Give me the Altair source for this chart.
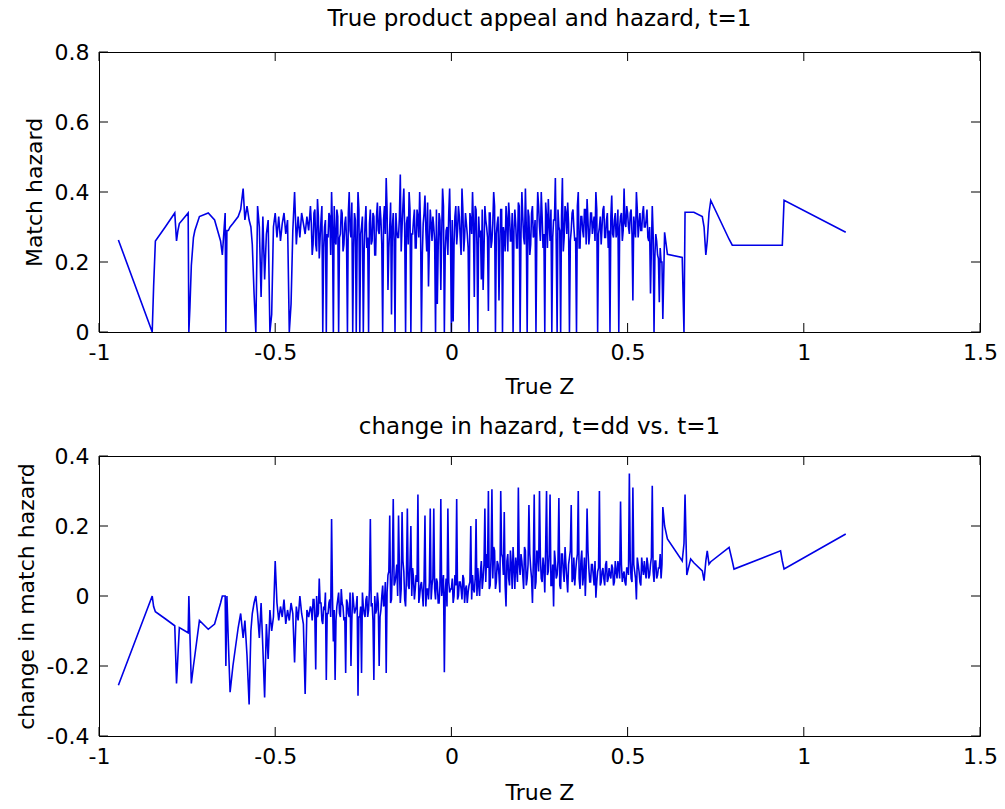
import altair as alt
import pandas as pd

# ---------------- data ----------------
z_left = [-0.945, -0.849, -0.845, -0.840, -0.812, -0.785, -0.780, -0.776, -0.772, -0.747,
          -0.745, -0.742, -0.738, -0.732, -0.728, -0.715, -0.690, -0.672, -0.655, -0.650,
          -0.642, -0.640, -0.637, -0.633, -0.628, -0.620, -0.605, -0.598, -0.591, -0.586,
          -0.580, -0.574, -0.569, -0.565, -0.560, -0.555]
hazard_left = [0.263, 0.0, 0.13, 0.26, 0.30, 0.34, 0.26, 0.29, 0.31, 0.34,
               0.0, 0.07, 0.19, 0.27, 0.29, 0.33, 0.34, 0.32, 0.26, 0.22,
               0.34, 0.0, 0.29, 0.29, 0.30, 0.31, 0.33, 0.35, 0.41, 0.32,
               0.36, 0.32, 0.30, 0.25, 0.11, 0.0]
change_left = [-0.255, 0.0, -0.03, -0.045, -0.065, -0.085, -0.25, -0.17, -0.09, -0.105,
               0.0, -0.11, -0.25, -0.2, -0.17, -0.07, -0.095, -0.08, -0.02, 0.0,
               0.0, -0.2, 0.0, -0.13, -0.275, -0.2, -0.09, -0.05, -0.12, -0.07,
               -0.17, -0.31, -0.1, -0.05, -0.02, 0.0]

z_mid = [
    -0.550, -0.545, -0.540, -0.535, -0.530, -0.525, -0.520, -0.515, -0.510, -0.505,
    -0.500, -0.495, -0.490, -0.485, -0.480, -0.475, -0.470, -0.465, -0.460, -0.455,
    -0.450, -0.445, -0.440, -0.435, -0.430, -0.425, -0.420, -0.415, -0.410, -0.405,
    -0.400, -0.395, -0.390, -0.385, -0.380, -0.375, -0.370, -0.365, -0.360, -0.355,
    -0.350, -0.345, -0.340, -0.335, -0.330, -0.325, -0.320, -0.315, -0.310, -0.305,
    -0.300, -0.295, -0.290, -0.285, -0.280, -0.275, -0.270, -0.265, -0.260, -0.255,
    -0.250, -0.245, -0.240, -0.235, -0.230, -0.225, -0.220, -0.215, -0.210, -0.205,
    -0.200, -0.195, -0.190, -0.185, -0.180, -0.175, -0.170, -0.165, -0.160, -0.155,
    -0.150, -0.145, -0.140, -0.135, -0.130, -0.125, -0.120, -0.115, -0.110, -0.105,
    -0.100, -0.095, -0.090, -0.085, -0.080, -0.075, -0.070, -0.065, -0.060, -0.055,
    -0.050, -0.045, -0.040, -0.035, -0.030, -0.025, -0.020, -0.015, -0.010, -0.005,
    0.000, 0.005, 0.010, 0.015, 0.020, 0.025, 0.030, 0.035, 0.040, 0.045,
    0.050, 0.055, 0.060, 0.065, 0.070, 0.075, 0.080, 0.085, 0.090, 0.095,
    0.100, 0.105, 0.110, 0.115, 0.120, 0.125, 0.130, 0.135, 0.140, 0.145,
    0.150, 0.155, 0.160, 0.165, 0.170, 0.175, 0.180, 0.185, 0.190, 0.195,
    0.200, 0.205, 0.210, 0.215, 0.220, 0.225, 0.230, 0.235, 0.240, 0.245,
    0.250, 0.255, 0.260, 0.265, 0.270, 0.275, 0.280, 0.285, 0.290, 0.295,
    0.300, 0.305, 0.310, 0.315, 0.320, 0.325, 0.330, 0.335, 0.340, 0.345,
    0.350, 0.355, 0.360, 0.365, 0.370, 0.375, 0.380, 0.385, 0.390, 0.395,
    0.400, 0.405, 0.410, 0.415, 0.420, 0.425, 0.430, 0.435, 0.440, 0.445,
    0.450, 0.455, 0.460, 0.465, 0.470, 0.475, 0.480, 0.485, 0.490, 0.495,
    0.500, 0.505, 0.510, 0.515, 0.520, 0.525, 0.530, 0.535, 0.540, 0.545,
    0.550, 0.555, 0.560, 0.565, 0.570, 0.575, 0.580, 0.585, 0.590, 0.595, 0.600,
]
hazard_mid = [
    0.36, 0.30, 0.10, 0.33, 0.15, 0.28, 0.32, 0.00, 0.05, 0.30,
    0.34, 0.27, 0.33, 0.26, 0.31, 0.34, 0.28, 0.32, 0.00, 0.08,
    0.29, 0.40, 0.25, 0.33, 0.27, 0.34, 0.31, 0.28, 0.33, 0.29,
    0.36, 0.22, 0.34, 0.25, 0.38, 0.21, 0.32, 0.00, 0.30, 0.00,
    0.27, 0.33, 0.40, 0.00, 0.26, 0.35, 0.00, 0.28, 0.34, 0.25,
    0.33, 0.00, 0.40, 0.27, 0.00, 0.34, 0.00, 0.40, 0.00, 0.30,
    0.00, 0.31, 0.24, 0.00, 0.35, 0.26, 0.33, 0.22, 0.37, 0.28,
    0.32, 0.00, 0.36, 0.44, 0.12, 0.30, 0.05, 0.34, 0.00, 0.29,
    0.27, 0.45, 0.30, 0.41, 0.00, 0.33, 0.40, 0.00, 0.28, 0.35,
    0.24, 0.33, 0.40, 0.00, 0.31, 0.39, 0.23, 0.13, 0.35, 0.26,
    0.30, 0.00, 0.08, 0.34, 0.12, 0.41, 0.00, 0.29, 0.22, 0.41,
    0.00, 0.03, 0.33, 0.25, 0.36, 0.27, 0.41, 0.23, 0.34, 0.28,
    0.00, 0.32, 0.40, 0.10, 0.35, 0.00, 0.27, 0.15, 0.12, 0.36,
    0.30, 0.06, 0.34, 0.26, 0.40, 0.00, 0.31, 0.09, 0.35, 0.00,
    0.28, 0.36, 0.23, 0.33, 0.26, 0.00, 0.35, 0.24, 0.37, 0.00,
    0.40, 0.27, 0.41, 0.00, 0.33, 0.25, 0.36, 0.28, 0.00, 0.40,
    0.30, 0.40, 0.24, 0.00, 0.33, 0.38, 0.26, 0.00, 0.32, 0.44,
    0.00, 0.30, 0.00, 0.44, 0.27, 0.34, 0.37, 0.00, 0.29, 0.35,
    0.26, 0.00, 0.40, 0.24, 0.33, 0.27, 0.35, 0.38, 0.25, 0.34,
    0.28, 0.33, 0.40, 0.00, 0.30, 0.25, 0.35, 0.27, 0.32, 0.24,
    0.00, 0.39, 0.27, 0.34, 0.29, 0.00, 0.33, 0.26, 0.41, 0.30,
    0.34, 0.28, 0.35, 0.09, 0.30, 0.40, 0.27, 0.34, 0.29, 0.36,
    0.30, 0.35, 0.26, 0.11, 0.36, 0.00, 0.28, 0.22, 0.085, 0.20, 0.037,
]
change_mid = [
    -0.05, -0.12, -0.02, -0.15, -0.29, -0.08, -0.18, -0.04, -0.10, -0.06,
    0.10, -0.02, -0.07, -0.03, -0.06, -0.01, -0.08, -0.04, -0.07, -0.02,
    -0.05, -0.19, -0.03, -0.07, 0.00, -0.05, -0.08, -0.28, -0.04, -0.06,
    -0.03, -0.07, -0.01, -0.21, -0.06, 0.05, -0.02, -0.08, -0.04, -0.24,
    -0.05, -0.01, 0.22, -0.13, -0.24, -0.03, 0.01, -0.06, -0.02, -0.07,
    -0.22, -0.02, -0.06, -0.20, 0.01, -0.05, -0.03, -0.285, -0.06, -0.22,
    -0.03, -0.06, 0.00, -0.04, 0.22, -0.02, -0.24, -0.05, 0.01, -0.20,
    -0.04, 0.03, -0.02, -0.22, 0.06, 0.23, -0.01, 0.277, 0.04, 0.09,
    0.23, -0.02, 0.24, 0.07, -0.03, 0.25, 0.02, 0.20, 0.08, -0.01,
    0.06, 0.29, 0.00, 0.04, -0.03, 0.23, 0.02, -0.01, 0.25, 0.03,
    0.25, -0.01, 0.04, -0.02, 0.277, 0.03, -0.218, 0.05, 0.25, 0.01,
    0.02, -0.02, 0.06, 0.277, 0.00, 0.04, -0.01, 0.05, 0.02, -0.02,
    0.03, 0.20, 0.06, 0.01, 0.22, 0.08, 0.00, 0.10, 0.05, 0.25,
    0.12, 0.30, 0.03, 0.305, 0.14, 0.02, 0.10, 0.06, 0.30, 0.11,
    0.24, -0.03, 0.12, 0.03, 0.09, 0.14, 0.02, 0.08, 0.31, 0.06,
    0.10, 0.02, 0.13, 0.05, 0.26, 0.08, -0.02, 0.29, 0.04, 0.12,
    0.30, 0.05, 0.11, 0.01, 0.30, 0.07, 0.29, 0.03, -0.03, 0.10,
    0.06, 0.28, 0.02, 0.12, 0.04, 0.09, 0.01, 0.11, 0.26, 0.05,
    0.03, 0.10, 0.30, 0.02, 0.13, 0.06, 0.00, 0.25, 0.08, 0.04,
    0.09, 0.03, -0.005, 0.07, 0.30, 0.04, 0.08, 0.03, 0.10, 0.05,
    0.06, 0.09, 0.03, 0.10, 0.05, 0.08, 0.27, 0.04, 0.07, 0.03,
    0.08, 0.35, 0.05, 0.31, 0.07, -0.01, 0.09, 0.04, 0.11, 0.06,
    0.07, 0.11, 0.05, 0.09, 0.315, 0.04, 0.10, 0.06, 0.08, 0.05, 0.254,
]

# extra in-band samples of the dense core (between the points above)
z_fill = [
    -0.3975, -0.3925, -0.3875, -0.3825, -0.3775, -0.3725, -0.3675, -0.3625, -0.3575, -0.3525,
    -0.3475, -0.3425, -0.3375, -0.3325, -0.3275, -0.3225, -0.3175, -0.3125, -0.3075, -0.3025,
    -0.2975, -0.2925, -0.2875, -0.2825, -0.2775, -0.2725, -0.2675, -0.2625, -0.2575, -0.2525,
    -0.2475, -0.2425, -0.2375, -0.2325, -0.2275, -0.2225, -0.2175, -0.2125, -0.2075, -0.2025,
    -0.1975, -0.1925, -0.1875, -0.1825, -0.1775, -0.1725, -0.1675, -0.1625, -0.1575, -0.1525,
    -0.1475, -0.1425, -0.1375, -0.1325, -0.1275, -0.1225, -0.1175, -0.1125, -0.1075, -0.1025,
    -0.0975, -0.0925, -0.0875, -0.0825, -0.0775, -0.0725, -0.0675, -0.0625, -0.0575, -0.0525,
    -0.0475, -0.0425, -0.0375, -0.0325, -0.0275, -0.0225, -0.0175, -0.0125, -0.0075, -0.0025,
    0.0025, 0.0075, 0.0125, 0.0175, 0.0225, 0.0275, 0.0325, 0.0375, 0.0425, 0.0475,
    0.0525, 0.0575, 0.0625, 0.0675, 0.0725, 0.0775, 0.0825, 0.0875, 0.0925, 0.0975,
    0.1025, 0.1075, 0.1125, 0.1175, 0.1225, 0.1275, 0.1325, 0.1375, 0.1425, 0.1475,
    0.1525, 0.1575, 0.1625, 0.1675, 0.1725, 0.1775, 0.1825, 0.1875, 0.1925, 0.1975,
    0.2025, 0.2075, 0.2125, 0.2175, 0.2225, 0.2275, 0.2325, 0.2375, 0.2425, 0.2475,
    0.2525, 0.2575, 0.2625, 0.2675, 0.2725, 0.2775, 0.2825, 0.2875, 0.2925, 0.2975,
    0.3025, 0.3075, 0.3125, 0.3175, 0.3225, 0.3275, 0.3325, 0.3375, 0.3425, 0.3475,
    0.3525, 0.3575, 0.3625, 0.3675, 0.3725, 0.3775, 0.3825, 0.3875, 0.3925, 0.3975,
    0.4025, 0.4075, 0.4125, 0.4175, 0.4225, 0.4275, 0.4325, 0.4375, 0.4425, 0.4475,
    0.4525, 0.4575, 0.4625, 0.4675, 0.4725, 0.4775, 0.4825, 0.4875, 0.4925, 0.4975,
    0.5025, 0.5075, 0.5125, 0.5175, 0.5225, 0.5275, 0.5325, 0.5375, 0.5425, 0.5475,
    0.5525, 0.5575, 0.5625, 0.5675, 0.5725, 0.5775, 0.5825, 0.5875, 0.5925, 0.5975,
]
hazard_fill = [
    0.31, 0.25, 0.35, 0.23, 0.33, 0.27, 0.36, 0.24, 0.32, 0.28,
    0.34, 0.22, 0.30, 0.36, 0.25, 0.33, 0.27, 0.35, 0.23, 0.31,
    0.26, 0.34, 0.29, 0.37, 0.24, 0.32, 0.26, 0.35, 0.28, 0.33,
    0.23, 0.36, 0.27, 0.31, 0.25, 0.34, 0.22, 0.33, 0.29, 0.36,
    0.25, 0.32, 0.28, 0.35, 0.24, 0.37, 0.30, 0.26, 0.34, 0.27,
    0.33, 0.23, 0.36, 0.29, 0.31, 0.25, 0.35, 0.28, 0.32, 0.24,
    0.35, 0.27, 0.30, 0.22, 0.34, 0.29, 0.37, 0.25, 0.31, 0.33,
    0.26, 0.35, 0.24, 0.32, 0.28, 0.36, 0.23, 0.30, 0.34, 0.27,
    0.32, 0.25, 0.36, 0.29, 0.33, 0.22, 0.35, 0.27, 0.31, 0.24,
    0.34, 0.28, 0.31, 0.36, 0.25, 0.33, 0.29, 0.35, 0.23, 0.32,
    0.27, 0.34, 0.24, 0.31, 0.36, 0.28, 0.33, 0.25, 0.35, 0.30,
    0.23, 0.32, 0.37, 0.26, 0.34, 0.29, 0.31, 0.24, 0.36, 0.28,
    0.33, 0.25, 0.30, 0.35, 0.22, 0.34, 0.27, 0.32, 0.29, 0.36,
    0.26, 0.33, 0.28, 0.37, 0.24, 0.31, 0.35, 0.27, 0.32, 0.25,
    0.35, 0.29, 0.33, 0.23, 0.36, 0.28, 0.31, 0.26, 0.34, 0.30,
    0.27, 0.36, 0.24, 0.33, 0.29, 0.35, 0.25, 0.32, 0.28, 0.34,
    0.31, 0.26, 0.35, 0.28, 0.33, 0.30, 0.36, 0.27, 0.34, 0.29,
    0.33, 0.28, 0.32, 0.27, 0.35, 0.30, 0.34, 0.29, 0.31, 0.36,
    0.30, 0.34, 0.28, 0.33, 0.27, 0.35, 0.31, 0.29, 0.34, 0.30,
    0.32, 0.27, 0.30, 0.24, 0.28, 0.22, 0.26, 0.21, 0.24, 0.20,
]
change_fill = [
    -0.04, -0.01, -0.06, 0.00, -0.05, -0.02, -0.07, -0.03, 0.01, -0.05,
    -0.02, -0.06, 0.00, -0.04, -0.07, -0.01, -0.05, 0.02, -0.03, -0.06,
    -0.01, -0.05, 0.01, -0.07, -0.02, -0.04, 0.00, -0.06, -0.03, 0.01,
    -0.05, -0.01, -0.06, 0.02, -0.03, -0.07, 0.00, -0.04, -0.02, -0.06,
    0.00, -0.03, 0.04, 0.01, 0.07, -0.02, 0.09, 0.03, 0.06, 0.00,
    0.08, 0.02, 0.10, -0.01, 0.06, 0.03, 0.09, 0.00, 0.05, 0.02,
    0.04, -0.02, 0.03, 0.01, 0.05, -0.03, 0.02, 0.04, -0.01, 0.05,
    0.02, 0.05, -0.02, 0.03, 0.00, 0.06, 0.01, -0.03, 0.04, 0.02,
    0.05, 0.00, 0.03, -0.01, 0.04, 0.02, 0.06, -0.02, 0.03, 0.01,
    0.04, -0.01, 0.02, 0.05, 0.00, 0.03, 0.07, 0.02, 0.09, 0.04,
    0.08, 0.02, 0.11, 0.05, 0.13, 0.04, 0.09, 0.01, 0.12, 0.06,
    0.03, 0.10, 0.05, 0.13, 0.02, 0.08, 0.11, 0.04, 0.09, 0.12,
    0.06, 0.14, 0.03, 0.09, 0.12, 0.05, 0.10, 0.02, 0.13, 0.07,
    0.11, 0.04, 0.08, 0.14, 0.06, 0.12, 0.03, 0.09, 0.13, 0.05,
    0.10, 0.03, 0.12, 0.07, 0.14, 0.05, 0.09, 0.13, 0.04, 0.11,
    0.07, 0.12, 0.05, 0.10, 0.03, 0.11, 0.08, 0.13, 0.04, 0.09,
    0.06, 0.10, 0.04, 0.08, 0.03, 0.07, 0.05, 0.09, 0.04, 0.08,
    0.05, 0.08, 0.04, 0.07, 0.10, 0.05, 0.09, 0.06, 0.04, 0.08,
    0.06, 0.10, 0.04, 0.09, 0.05, 0.11, 0.07, 0.03, 0.08, 0.10,
    0.05, 0.09, 0.06, 0.11, 0.07, 0.10, 0.05, 0.08, 0.12, 0.09,
]

z_right = [0.605, 0.613, 0.655, 0.660, 0.663, 0.668, 0.679, 0.688, 0.712, 0.717,
           0.722, 0.726, 0.731, 0.736, 0.788, 0.797, 0.802, 0.934, 0.939, 0.944, 1.119]
hazard_right = [0.285, 0.222, 0.213, 0.0, 0.342, 0.342, 0.342, 0.342, 0.33, 0.30,
                0.22, 0.26, 0.34, 0.376, 0.265, 0.248, 0.248, 0.248, 0.248, 0.376, 0.285]
change_right = [0.20, 0.163, 0.10, 0.15, 0.29, 0.06, 0.106, 0.095, 0.072, 0.044,
                0.10, 0.129, 0.091, 0.098, 0.139, 0.10, 0.077, 0.129, 0.10, 0.077, 0.177]

x_ticks = [-1, -0.5, 0, 0.5, 1, 1.5]
y_ticks_top = [0, 0.2, 0.4, 0.6, 0.8]
y_ticks_bottom = [-0.4, -0.2, 0, 0.2, 0.4]

# ---------------- build table ----------------
df = pd.DataFrame({
    "z": z_left + z_mid + z_fill + z_right,
    "hazard": hazard_left + hazard_mid + hazard_fill + hazard_right,
    "change": change_left + change_mid + change_fill + change_right,
}).sort_values("z").reset_index(drop=True)

W, H = 881, 280
FONT = "DejaVu Sans"
LINE_COLOR = "#0000e6"
TICK = 9

xscale = alt.Scale(domain=[-1, 1.5], nice=False, zero=False)


def panel(field, ydomain, yticks, ytitle, title, offset, xpad):
    yscale = alt.Scale(domain=ydomain, nice=False, zero=False)
    xaxis = alt.Axis(values=x_ticks, labelExpr="'' + datum.value", titlePadding=xpad)
    yaxis = alt.Axis(values=yticks, labelExpr="'' + datum.value")
    line = alt.Chart(df).mark_line(color=LINE_COLOR, strokeWidth=1.6).encode(
        x=alt.X("z:Q", scale=xscale, title="True Z", axis=xaxis),
        y=alt.Y(f"{field}:Q", scale=yscale, title=ytitle, axis=yaxis),
        order="z:Q",
    )
    xt = pd.DataFrame({"t": x_ticks})
    yt = pd.DataFrame({"t": yticks})
    rule = dict(color="black", strokeWidth=1)
    bottom = alt.Chart(xt).mark_rule(**rule).encode(
        x=alt.X("t:Q", scale=xscale, title="True Z", axis=xaxis),
        y=alt.value(H), y2=alt.value(H - TICK))
    top = alt.Chart(xt).mark_rule(**rule).encode(
        x=alt.X("t:Q", scale=xscale, title="True Z", axis=xaxis),
        y=alt.value(0), y2=alt.value(TICK))
    left = alt.Chart(yt).mark_rule(**rule).encode(
        y=alt.Y("t:Q", scale=yscale, title=ytitle, axis=yaxis),
        x=alt.value(0), x2=alt.value(TICK))
    right = alt.Chart(yt).mark_rule(**rule).encode(
        y=alt.Y("t:Q", scale=yscale, title=ytitle, axis=yaxis),
        x=alt.value(W - TICK), x2=alt.value(W))
    return alt.layer(line, bottom, top, left, right).properties(
        width=W, height=H,
        title=alt.TitleParams(title, fontSize=23, font=FONT, fontWeight="normal",
                              color="black", offset=offset),
    )


top_panel = panel("hazard", [0, 0.8], y_ticks_top, "Match hazard",
                  "True product appeal and hazard, t=1", 10, 13)
bottom_panel = panel("change", [-0.4, 0.4], y_ticks_bottom, "change in match hazard",
                     "change in hazard, t=dd vs. t=1", 6, 15)

chart = alt.vconcat(top_panel, bottom_panel, spacing=17).properties(
    padding={"left": 14, "top": 7, "right": 5, "bottom": 0},
    background="white",
).configure_view(
    stroke="black", strokeWidth=1
).configure_axis(
    labelFont=FONT, labelFontSize=22, labelColor="black",
    titleFont=FONT, titleFontSize=22, titleFontWeight="normal", titleColor="black",
    ticks=False, tickSize=0, domain=False, grid=False,
    labelPadding=10, labelFlush=False, labelOverlap=False,
).configure_axisY(titlePadding=8)

chart.save("out.html", embed_options={"renderer": "svg", "actions": False})
